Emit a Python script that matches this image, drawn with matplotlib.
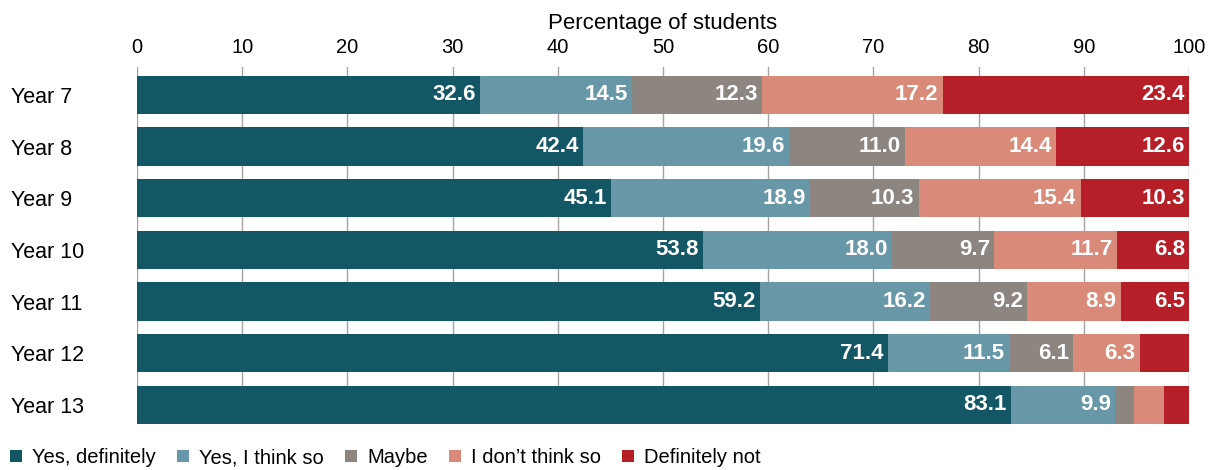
import matplotlib.pyplot as plt
import numpy as np

plt.rcParams['font.family'] = ['Liberation Sans', 'DejaVu Sans']

years = ['Year 7', 'Year 8', 'Year 9', 'Year 10', 'Year 11', 'Year 12', 'Year 13']
categories = ['Yes, definitely', 'Yes, I think so', 'Maybe', 'I don\u2019t think so', 'Definitely not']
yes_def = [32.6, 42.4, 45.1, 53.8, 59.2, 71.4, 83.1]
yes_think = [14.5, 19.6, 18.9, 18.0, 16.2, 11.5, 9.9]
maybe = [12.3, 11.0, 10.3, 9.7, 9.2, 6.1, 1.8]
dont_think = [17.2, 14.4, 15.4, 11.7, 8.9, 6.3, 2.8]
def_not = [23.4, 12.6, 10.3, 6.8, 6.5, 4.7, 2.4]
colors = ['#135665', '#6898a8', '#8c8580', '#d98a78', '#b71f28']

series = [yes_def, yes_think, maybe, dont_think, def_not]

fig = plt.figure(figsize=(12.2, 4.7), dpi=100)
ax = fig.add_axes([137/1220, 1-424/470, (1189-137)/1220, (424-67)/470])

y = np.arange(len(years))
left = np.zeros(len(years))
handles = []
for vals, c, name in zip(series, colors, categories):
    vals = np.array(vals)
    b = ax.barh(y, vals, left=left, height=0.74, color=c, zorder=2, label=name)
    handles.append(b)
    for i, v in enumerate(vals):
        if v >= 5:
            ax.text(left[i] + v - 0.4, y[i], f'{v:.1f}', ha='right', va='center',
                    color='white', fontsize=16, fontweight='bold', zorder=3)
    left += vals

ax.set_xlim(0, 100)
ax.set_ylim(6.37, -0.54)
ax.set_yticks(y)
ax.set_yticklabels(years, fontsize=15.5)
ax.set_xticks(np.arange(0, 101, 10))
ax.xaxis.tick_top()
ax.xaxis.set_label_position('top')
ax.set_xlabel('Percentage of students', fontsize=16, labelpad=7)
ax.tick_params(axis='x', length=0, labelsize=14.5, pad=7)
ax.tick_params(axis='y', length=0, pad=91)
for lab in ax.get_yticklabels():
    lab.set_horizontalalignment('left')
ax.grid(axis='x', color='#a8a3a0', linewidth=1, zorder=0)
for s in ax.spines.values():
    s.set_visible(False)

fig.legend(handles=handles, labels=categories, loc='lower left', bbox_to_anchor=(10/1220, 0.006),
           ncol=5, frameon=False, fontsize=14.5, handlelength=0.6, handleheight=0.6,
           handletextpad=0.5, columnspacing=1.05, borderpad=0, borderaxespad=0)

plt.savefig('out.png', dpi=100)
